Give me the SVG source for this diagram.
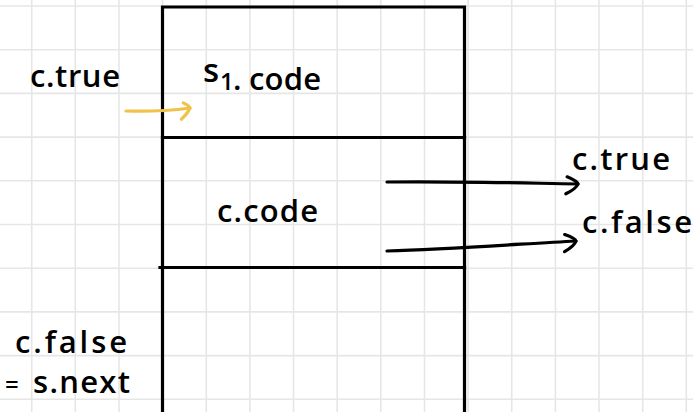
<svg xmlns="http://www.w3.org/2000/svg" width="693" height="412" viewBox="0 0 693 412">
  <style>
    .grid line { stroke: #e6e6e6; stroke-width: 1.6; }
    .frame { stroke: #000; stroke-width: 3.2; fill: none; stroke-linecap: square; }
    .hand { font-family: "Open Sans", "Liberation Sans", sans-serif; font-size: 31px; font-weight: 600; fill: #000; }
    .conn { fill: none; stroke-width: 3.2; stroke-linecap: round; }
    .black { stroke: #000; }
    .gold { stroke: #efc24a; }
  </style>
  <defs>
    <marker id="headBlack" markerUnits="userSpaceOnUse" orient="auto" overflow="visible" markerWidth="30" markerHeight="30">
      <path d="M-11,-7 Q-1,-3 0,0 Q-2,5 -12,10" fill="none" stroke="#000" stroke-width="3.2" stroke-linecap="round"/>
    </marker>
    <marker id="headGold" markerUnits="userSpaceOnUse" orient="auto" overflow="visible" markerWidth="30" markerHeight="30">
      <path d="M-6,-6 Q0,-2 0,0 Q-3,5 -10,10" fill="none" stroke="#efc24a" stroke-width="3.2" stroke-linecap="round"/>
    </marker>
  </defs>

  <rect width="693" height="412" fill="#fff"/>

  <!-- squared paper -->
  <g class="grid">
    <line x1="31.7" y1="0" x2="31.7" y2="412"/>
    <line x1="75.3" y1="0" x2="75.3" y2="412"/>
    <line x1="119" y1="0" x2="119" y2="412"/>
    <line x1="162.6" y1="0" x2="162.6" y2="412"/>
    <line x1="206.3" y1="0" x2="206.3" y2="412"/>
    <line x1="249.9" y1="0" x2="249.9" y2="412"/>
    <line x1="293.5" y1="0" x2="293.5" y2="412"/>
    <line x1="337.2" y1="0" x2="337.2" y2="412"/>
    <line x1="380.8" y1="0" x2="380.8" y2="412"/>
    <line x1="424.5" y1="0" x2="424.5" y2="412"/>
    <line x1="468.1" y1="0" x2="468.1" y2="412"/>
    <line x1="511.7" y1="0" x2="511.7" y2="412"/>
    <line x1="555.4" y1="0" x2="555.4" y2="412"/>
    <line x1="599" y1="0" x2="599" y2="412"/>
    <line x1="642.7" y1="0" x2="642.7" y2="412"/>
    <line x1="686.3" y1="0" x2="686.3" y2="412"/>
    <line x1="0" y1="6" x2="693" y2="6"/>
    <line x1="0" y1="49.7" x2="693" y2="49.7"/>
    <line x1="0" y1="93.4" x2="693" y2="93.4"/>
    <line x1="0" y1="137.1" x2="693" y2="137.1"/>
    <line x1="0" y1="180.8" x2="693" y2="180.8"/>
    <line x1="0" y1="224.5" x2="693" y2="224.5"/>
    <line x1="0" y1="268.2" x2="693" y2="268.2"/>
    <line x1="0" y1="311.9" x2="693" y2="311.9"/>
    <line x1="0" y1="355.6" x2="693" y2="355.6"/>
    <line x1="0" y1="399.3" x2="693" y2="399.3"/>
  </g>

  <!-- code layout column -->
  <g id="s1-code">
    <path class="frame" d="M162.5,7 H464.5 M162.5,7 V138 M464.5,7 V138"/>
    <text class="hand" x="203" y="90"><tspan dy="-8" font-size="33">s</tspan><tspan x="220" dy="8" font-size="24">1</tspan><tspan x="233">.</tspan><tspan x="249" textLength="72" lengthAdjust="spacing">code</tspan></text>
  </g>
  <g id="c-code">
    <path class="frame" d="M162.5,137.5 H464.5 M162.5,137.5 V268 M464.5,137.5 V268"/>
    <text class="hand" x="217" y="222" textLength="101" lengthAdjust="spacing">c.code</text>
  </g>
  <g id="s-next-block">
    <path class="frame" d="M160,267.5 H464.5 M162.5,267.5 V414 M464.5,267.5 V414"/>
  </g>

  <!-- side labels -->
  <g id="label-c-true-in">
    <text class="hand" x="30" y="87" textLength="90" lengthAdjust="spacing">c.true</text>
  </g>
  <g id="label-c-true-out">
    <text class="hand" x="572" y="170" textLength="98" lengthAdjust="spacing">c.true</text>
  </g>
  <g id="label-c-false-out">
    <text class="hand" x="582" y="233" textLength="110" lengthAdjust="spacing">c.false</text>
  </g>
  <g id="label-c-false-next">
    <text class="hand" x="15" y="353" textLength="112" lengthAdjust="spacing">c.false</text>
    <text class="hand" x="5" y="393"><tspan font-size="24">=</tspan><tspan x="33" textLength="97" lengthAdjust="spacing">s.next</tspan></text>
  </g>

  <!-- jumps -->
  <g id="connectors">
    <path class="conn gold" d="M126,111 Q160,112 190,108" marker-end="url(#headGold)"/>
    <path class="conn black" d="M387,182 C450,181 520,183 578,184" marker-end="url(#headBlack)"/>
    <path class="conn black" d="M387,251 C450,249 520,244 576,241" marker-end="url(#headBlack)"/>
  </g>
</svg>
